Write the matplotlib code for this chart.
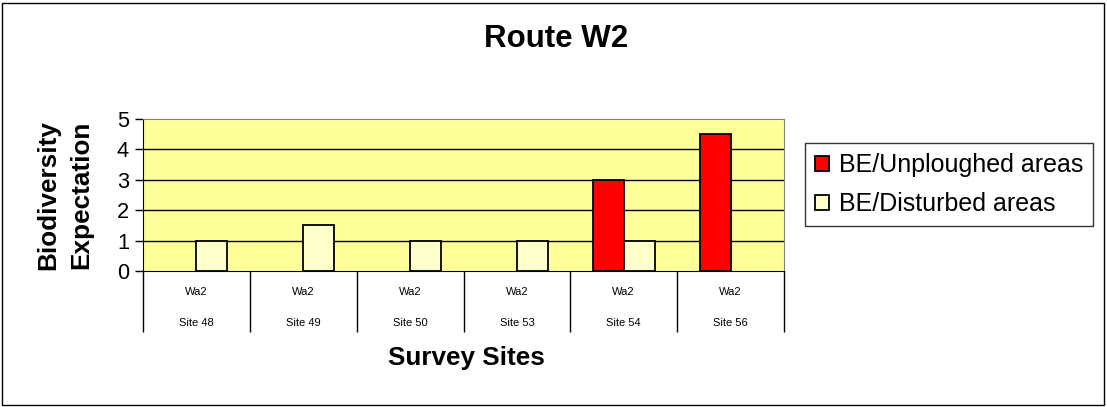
import numpy as np
import matplotlib
matplotlib.use('Agg')
from matplotlib import pyplot as plt
from matplotlib.patches import Rectangle, Patch

plt.rcParams['font.family'] = ['Liberation Sans', 'DejaVu Sans']

sites = ['Site 48', 'Site 49', 'Site 50', 'Site 53', 'Site 54', 'Site 56']
route = ['Wa2', 'Wa2', 'Wa2', 'Wa2', 'Wa2', 'Wa2']
unploughed = [0, 0, 0, 0, 3, 4.5]
disturbed = [1, 1.5, 1, 1, 1, 0]

red = '#FF0000'
pale = '#FFFFCC'

fig = plt.figure(figsize=(11.07, 4.07), dpi=100)
ax = fig.add_axes([143/1107, 1-271/407, (784-143)/1107, (271-119)/407])
ax.set_facecolor('#FFFF99')

x = np.arange(len(sites))
w = 0.29
b1 = ax.bar(x - w/2, unploughed, w, color=red, edgecolor='black', linewidth=1.3, zorder=3)
b2 = ax.bar(x + w/2, disturbed, w, color=pale, edgecolor='black', linewidth=1.3, zorder=3)
# hide zero-height bars
for b in list(b1) + list(b2):
    if b.get_height() == 0:
        b.set_visible(False)

ax.set_xlim(-0.5, len(sites) - 0.5)
ax.set_ylim(0, 5)
ax.set_yticks(range(6))
ax.tick_params(axis='y', labelsize=15.7, length=6, width=1, direction='out', pad=4)
for yv in range(1, 5):
    ax.axhline(yv, color='black', linewidth=1, zorder=1)

ax.set_xticks(np.arange(-0.5, len(sites), 1))
ax.set_xticklabels([])
ax.tick_params(axis='x', length=44, width=1, color='black')
for i in range(len(sites)):
    ax.text(i, -0.138, route[i], transform=ax.get_xaxis_transform(), ha='center', va='center', fontsize=8)
    ax.text(i, -0.342, sites[i], transform=ax.get_xaxis_transform(), ha='center', va='center', fontsize=8)

for s in ['top', 'right']:
    ax.spines[s].set_color('#808080')
for s in ['left', 'bottom']:
    ax.spines[s].set_color('black')

fig.text(556/1107, 1-39/407, 'Route W2', ha='center', va='center', fontsize=22.5, fontweight='bold')
fig.text(65/1107, 1-195/407, 'Biodiversity\nExpectation', ha='center', va='center', rotation=90,
         fontsize=18.8, fontweight='bold', linespacing=1.45)
fig.text(466/1107, 1-358/407, 'Survey Sites', ha='center', va='center', fontsize=18.8, fontweight='bold')

handles = [Patch(facecolor=red, edgecolor='black', linewidth=1.3, label='BE/Unploughed areas'),
           Patch(facecolor=pale, edgecolor='black', linewidth=1.3, label='BE/Disturbed areas')]
leg = fig.legend(handles=handles, loc='upper left', bbox_to_anchor=(805/1107, 1-143/407),
                 fontsize=18, frameon=True, fancybox=False, shadow=False, handlelength=0.55,
                 handleheight=0.55, handletextpad=0.4, borderpad=0.4, labelspacing=0.6,
                 borderaxespad=0)
leg.get_frame().set_edgecolor('black')
leg.get_frame().set_linewidth(1)

fig.patches.append(Rectangle((2/1107, 2/407), 1102/1107, 402/407, transform=fig.transFigure,
                             fill=False, edgecolor='black', linewidth=1))

fig.savefig('out.png', dpi=100)
